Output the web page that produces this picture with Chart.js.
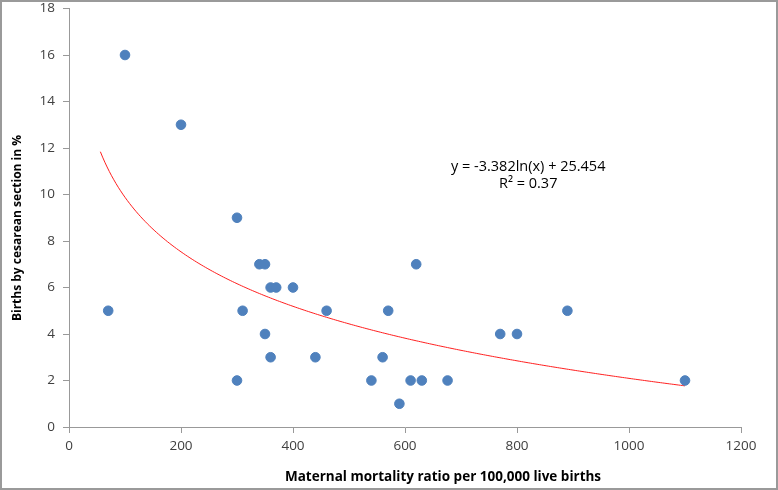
<!DOCTYPE html>
<html>
<head>
<meta charset="utf-8">
<script src="https://cdn.jsdelivr.net/npm/chart.js@4"></script>
<style>
  html, body { margin: 0; padding: 0; background: #fff; }
  canvas { display: block; }
</style>
</head>
<body>
<canvas id="chart" width="778" height="490"></canvas>
<script>
// --- data ---
const mortality = [70, 100, 200, 300, 300, 310, 340, 350, 350, 360, 360, 370, 400, 440, 460,
                   540, 560, 570, 590, 610, 620, 630, 676, 770, 800, 890, 1100];
const cesarean  = [5, 16, 13, 9, 2, 5, 7, 7, 4, 6, 3, 6, 6, 3, 5,
                   2, 3, 5, 1, 2, 7, 2, 2, 4, 4, 5, 2];
const xTicks = [0, 200, 400, 600, 800, 1000, 1200];
const yTicks = [0, 2, 4, 6, 8, 10, 12, 14, 16, 18];

// trendline as printed on the chart
const trendA = -3.382;
const trendB = 25.454;
const trendFrom = 56;
const trendTo = 1100;
const equationText = "y = -3.382ln(x) + 25.454";
const r2Text = "R² = 0.37";

const points = mortality.map((x, i) => ({ x, y: cesarean[i] }));
const trend = [];
for (let x = trendFrom; x <= trendTo; x += 4) trend.push({ x, y: trendA * Math.log(x) + trendB });

const FONT = "'Open Sans', 'Noto Sans', sans-serif";

const frame = {
  id: "frame",
  beforeDraw(chart) {
    const { ctx, width, height } = chart;
    ctx.save();
    ctx.fillStyle = "#fff";
    ctx.fillRect(0, 0, width, height);
    ctx.restore();
  },
  afterDraw(chart) {
    const { ctx, width, height, scales } = chart;
    ctx.save();
    // outer border
    ctx.strokeStyle = "#9a9a9a";
    ctx.lineWidth = 2;
    ctx.strokeRect(1, 1, width - 2, height - 2);

    // axis titles
    ctx.fillStyle = "#000";
    ctx.textAlign = "center";
    ctx.textBaseline = "middle";
    ctx.font = "bold 13.5px " + FONT;
    ctx.fillText("Maternal mortality ratio per 100,000 live births", 443, 477);
    ctx.save();
    ctx.translate(18, 228);
    ctx.rotate(-Math.PI / 2);
    ctx.font = "bold 12px " + FONT;
    ctx.fillText("Births by cesarean section in %", 0, 0);
    ctx.restore();

    // trendline equation
    ctx.font = "14.5px " + FONT;
    const ex = scales.x.getPixelForValue(820);
    ctx.fillText(equationText, ex, scales.y.getPixelForValue(11.2));
    ctx.fillText(r2Text, ex, scales.y.getPixelForValue(10.45));
    ctx.restore();
  }
};

new Chart(document.getElementById("chart"), {
  type: "scatter",
  data: {
    datasets: [
      {
        label: "Countries",
        data: points,
        backgroundColor: "#4f81bd",
        borderColor: "#4f81bd",
        pointRadius: 4.8,
        pointHoverRadius: 4.8,
        order: 1
      },
      {
        label: "Log. trend",
        type: "line",
        data: trend,
        borderColor: "#ff2020",
        borderWidth: 1,
        pointRadius: 0,
        fill: false,
        tension: 0,
        order: 2
      }
    ]
  },
  options: {
    responsive: false,
    animation: false,
    layout: { padding: { top: 8.5, right: 37, left: 0, bottom: 0 } },
    plugins: { legend: { display: false }, tooltip: { enabled: false } },
    scales: {
      x: {
        type: "linear",
        min: 0,
        max: 1200,
        afterBuildTicks: s => { s.ticks = xTicks.map(v => ({ value: v })); },
        afterFit: s => { s.height = 63; s.paddingLeft = 0; s.paddingRight = 0; },
        ticks: { color: "#404040", font: { family: FONT, size: 13.5 }, padding: 5, callback: v => String(v) },
        grid: { drawOnChartArea: false, color: "#999", tickLength: 6 },
        border: { color: "#999" }
      },
      y: {
        min: 0,
        max: 18,
        afterBuildTicks: s => { s.ticks = yTicks.map(v => ({ value: v })); },
        afterFit: s => { s.width = 69; s.paddingTop = 0; s.paddingBottom = 0; },
        ticks: { color: "#404040", font: { family: FONT, size: 13.5 }, padding: 8, callback: v => String(v) },
        grid: { drawOnChartArea: false, color: "#999", tickLength: 6 },
        border: { color: "#999" }
      }
    }
  },
  plugins: [frame]
});
</script>
</body>
</html>
